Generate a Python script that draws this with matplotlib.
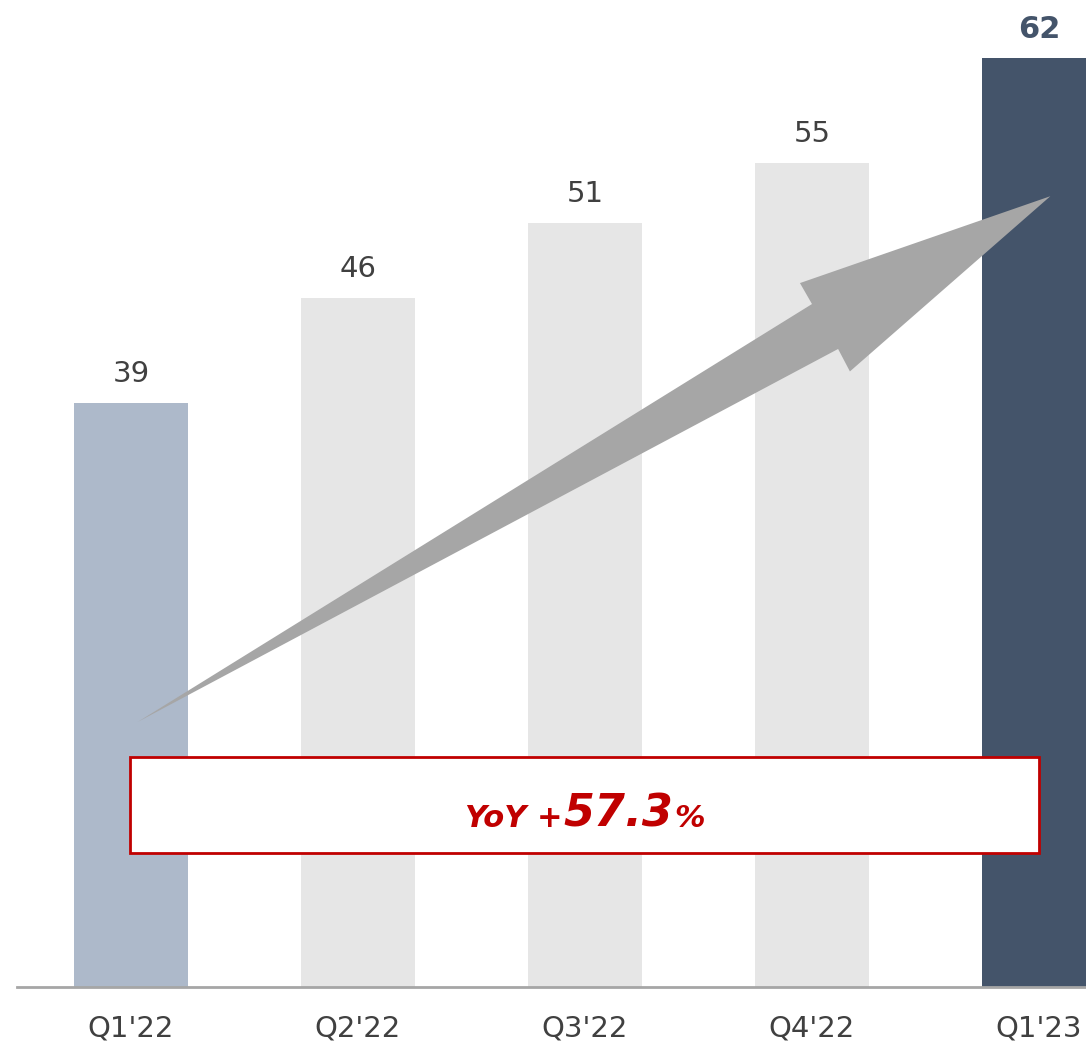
import matplotlib.pyplot as plt
from matplotlib.patches import Polygon, Rectangle
from matplotlib.transforms import IdentityTransform

# data
quarters = ["Q1'22", "Q2'22", "Q3'22", "Q4'22", "Q1'23"]
values = [39, 46, 51, 55, 62]
bar_colors = ['#ADB9CA', '#E6E6E6', '#E6E6E6', '#E6E6E6', '#44546A']
yoy_text = ['YoY +', '57.3', '%']

plt.rcParams['font.family'] = ['DejaVu Sans']

fig = plt.figure(figsize=(10.86, 10.45), dpi=100)
ax = fig.add_axes([17 / 1086, 58 / 1045, 1 - 17 / 1086, 987 / 1045])

x = list(range(len(quarters)))
ax.bar(x, values, width=0.5, color=bar_colors, zorder=2)
ax.set_xlim(-0.502, 4.207)
ax.set_ylim(0, 65.9)

# value labels
for i, v in enumerate(values):
    last = i == len(values) - 1
    ax.annotate(str(v), (i, v), xytext=(0, 15 if last else 15),
                textcoords='offset points',
                ha='center', va='baseline', fontsize=22 if last else 21,
                fontweight='bold' if last else 'normal',
                color='#44546A' if last else '#404040', clip_on=False)

# growth arrow (data coords)
arrow_pts = [(0.03, 17.7), (3.0, 45.6), (2.947, 47.0), (4.05, 52.8),
             (3.167, 41.1), (3.115, 42.6)]
ax.add_patch(Polygon(arrow_pts, closed=True, facecolor='#A6A6A6',
                     edgecolor='none', zorder=3))

# YoY box
ax.add_patch(Rectangle((-0.004, 8.95), 4.004, 6.41, facecolor='white',
                       edgecolor='#C00000', linewidth=2, zorder=4))

# chained text inside box
fig.canvas.draw()
r = fig.canvas.get_renderer()
cx, by = ax.transData.transform((2, 10.7))
sizes = [22, 32, 22]
parts = []
for s, fs in zip(yoy_text, sizes):
    t = fig.text(0, 0, s, transform=IdentityTransform(), fontsize=fs,
                 fontweight='bold', fontstyle='italic', color='#C00000',
                 va='baseline', ha='left', zorder=5)
    parts.append(t)
widths = [t.get_window_extent(r).width for t in parts]
gap = 1
total = sum(widths) + gap * (len(widths) - 1)
xpos = cx - total / 2
for t, w in zip(parts, widths):
    t.set_position((xpos, by))
    xpos += w + gap

ax.set_xticks(x)
ax.set_xticklabels(quarters, fontsize=21, color='#404040')
ax.tick_params(axis='x', length=0, pad=20)
ax.set_yticks([])
for side in ['top', 'right', 'left']:
    ax.spines[side].set_visible(False)
ax.spines['bottom'].set_color('#A6A6A6')
ax.spines['bottom'].set_linewidth(2)

fig.savefig('out.png', dpi=100)
